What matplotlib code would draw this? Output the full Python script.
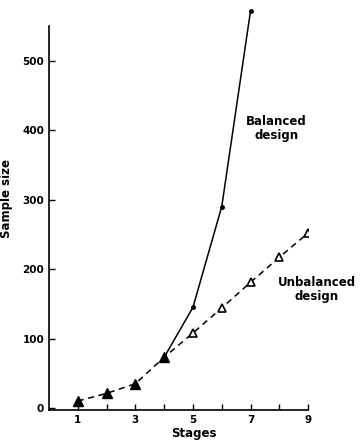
import matplotlib
matplotlib.use("Agg")
import matplotlib.pyplot as plt

# shared part of both designs (filled triangles)
shared_stages = [1, 2, 3, 4]
shared_size = [10, 21, 35, 73]

# balanced design continues with dots
bal_stages = [4, 5, 6, 7]
bal_size = [73, 145, 290, 572]

# unbalanced design continues with open triangles
unbal_stages = [4, 5, 6, 7, 8, 9]
unbal_size = [73, 108, 144, 181, 217, 252]

xticks = [1, 3, 5, 7, 9]
yticks = [0, 100, 200, 300, 400, 500]

plt.rcParams['font.family'] = ['DejaVu Sans']

fig = plt.figure(figsize=(3.6, 4.4), dpi=100)
ax = fig.add_axes([0.136, 0.068, 0.72, 0.873])

# dashed line through the shared and unbalanced points
ax.plot(shared_stages + unbal_stages[1:], shared_size + unbal_size[1:],
        color='black', linestyle=(0, (4, 3)), linewidth=1.1)
ax.plot(shared_stages, shared_size, linestyle='none', marker='^',
        markersize=7, color='black')
ax.plot(unbal_stages[1:], unbal_size[1:], linestyle='none', marker='^',
        markersize=6, markerfacecolor='white', markeredgecolor='black',
        markeredgewidth=1.2)

# solid balanced line
ax.plot(bal_stages, bal_size, color='black', linewidth=1.1, clip_on=False)
ax.plot(bal_stages[1:], bal_size[1:], linestyle='none', marker='o',
        markersize=2.5, color='black', clip_on=False)

ax.text(7.9, 402, 'Balanced\ndesign', ha='center', va='center',
        fontsize=8.5, fontweight='bold', linespacing=1.1)
ax.text(9.3, 170, 'Unbalanced\ndesign', ha='center', va='center',
        fontsize=8.5, fontweight='bold', linespacing=1.1, clip_on=False)

ax.set_xlim(0, 9)
ax.set_ylim(-3, 550)
ax.set_xticks(xticks)
ax.set_xticks(range(1, 10), minor=True)
ax.set_yticks(yticks)
ax.tick_params(direction='in', length=4, width=1, labelsize=7.5)
ax.tick_params(which='minor', direction='in', length=4, width=1)
for lab in ax.get_xticklabels() + ax.get_yticklabels():
    lab.set_fontweight('bold')

ax.spines['top'].set_visible(False)
ax.spines['right'].set_visible(False)
ax.spines['left'].set_linewidth(1.2)
ax.spines['bottom'].set_linewidth(1.2)

ax.set_xlabel('Stages', fontsize=8.5, fontweight='bold')
ax.set_ylabel('Sample size', fontsize=8.5, fontweight='bold')
ax.xaxis.set_label_coords(0.56, -0.043)
ax.yaxis.set_label_coords(-0.14, 0.55)

fig.savefig('out.png', dpi=100)
